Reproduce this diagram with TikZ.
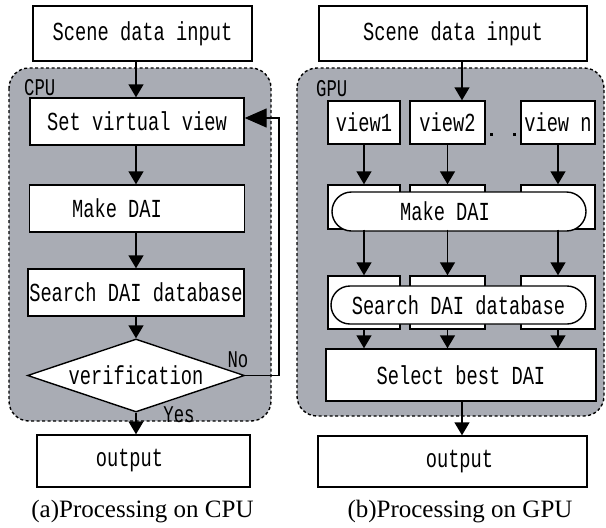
\documentclass[tikz,border=0pt]{standalone}
\usepackage{fontspec}
\usepackage{tikz}
\usetikzlibrary{arrows.meta,shapes.geometric,shapes.misc}
\newfontfamily\gothic[FakeStretch=0.72]{Liberation Mono}
\newfontfamily\capserif{Liberation Serif}
\definecolor{unitgray}{RGB}{169,172,180}

\begin{document}
\begin{tikzpicture}[x=1pt,y=-1pt,
    box/.style={draw, line width=1.4pt, fill=white, inner sep=0pt, font=\gothic\fontsize{26}{30}\selectfont},
    stadium/.style={box, rounded rectangle},
    decision/.style={box, diamond, aspect=3},
    unit/.style={draw, dash pattern=on 3pt off 2.5pt, line width=1.4pt, fill=unitgray, rounded corners=20pt},
    unitname/.style={anchor=north west, inner sep=0pt, font=\gothic\fontsize{24}{26}\selectfont},
    flow/.style={-{Triangle[length=13pt,width=15pt]}, line width=1.4pt},
    caption/.style={anchor=base, inner sep=0pt, font=\capserif\fontsize{25}{28}\selectfont}]
    \useasboundingbox (0,0) rectangle (606,528);

    % Draw CPU side
    \draw[unit] (9,68) rectangle (271,421);
    \node[unitname] (cpuname) at (24,79) {CPU};
    \coordinate (spineA) at (136,0);
    \node[box, minimum width=219pt, minimum height=55pt] (sceneA) at (142.5,33.5) {Scene data input};
    \node[box, minimum width=214pt, minimum height=47pt] (setA) at (137,121.5) {Set virtual view};
    \node[box, minimum width=215pt, minimum height=47pt] (makeA) at (137,208.5) {Make DAI\kern40pt};
    \node[box, minimum width=216pt, minimum height=47pt] (searchA) at (136,292.5) {Search DAI database};
    \node[decision, minimum width=217pt, minimum height=73pt] (verifyA) at (136,375.5) {verification};
    \node[box, minimum width=213pt, minimum height=52pt] (outA) at (143.5,461) {output\kern28pt};
    \coordinate (backA) at (279,118);

    % Flow on CPU
    \draw[flow] (sceneA.south -| spineA) -- (setA.north -| spineA);
    \draw[flow] (setA.south -| spineA) -- (makeA.north -| spineA);
    \draw[flow] (makeA.south -| spineA) -- (searchA.north -| spineA);
    \draw[flow] (searchA.south -| spineA) -- (verifyA.north);
    \draw[flow] (verifyA.south) -- (outA.north -| spineA);
    \draw[line width=1.4pt, -{Triangle[length=22pt,width=19pt]}] (verifyA.east) -| (backA) -- (setA.east |- backA);
    \node[unitname, anchor=center] (noA) at (238,360) {No};
    \node[unitname, anchor=center] (yesA) at (179,415) {Yes};

    % Draw GPU side
    \draw[unit] (297,68) rectangle (604,416);
    \node[unitname] (gpuname) at (316,80) {GPU};
    \coordinate (spineB) at (462,0);
    \node[box, minimum width=268pt, minimum height=55pt] (sceneB) at (453,33.5) {Scene data input};
    \node[box, minimum width=72pt, minimum height=43pt] (viewB1) at (364,122.5) {view1};
    \node[box, minimum width=75pt, minimum height=43pt] (viewB2) at (447.5,122.5) {view2};
    \node[box, minimum width=74pt, minimum height=43pt] (viewBn) at (558,122.5) {view n};
    \fill (489.5,132.5) rectangle ++(3,3);
    \fill (512.5,132.5) rectangle ++(3,3);
    \node[box, minimum width=72pt, minimum height=44pt] (makeB1) at (364,207) {};
    \node[box, minimum width=75pt, minimum height=44pt] (makeB2) at (447.5,207) {};
    \node[box, minimum width=74pt, minimum height=44pt] (makeBn) at (558,207) {};
    \node[stadium, minimum width=254pt, minimum height=39pt] (makeB) at (459,211.5) {Make DAI\kern28pt};
    \node[box, minimum width=72pt, minimum height=53pt] (searchB1) at (364,302.5) {};
    \node[box, minimum width=75pt, minimum height=53pt] (searchB2) at (447.5,302.5) {};
    \node[box, minimum width=74pt, minimum height=53pt] (searchBn) at (558,302.5) {};
    \node[stadium, minimum width=255pt, minimum height=38pt] (searchB) at (458.5,305) {Search DAI database};
    \node[box, minimum width=270pt, minimum height=52pt] (selectB) at (461,375) {Select best DAI};
    \node[box, minimum width=269pt, minimum height=51pt] (outB) at (452.5,461.5) {\kern14pt output};

    % Flow on GPU
    \draw[flow] (sceneB.south -| spineB) -- (viewB2.north -| spineB);
    \foreach \col in {1,2,n} {
        \draw[flow] (viewB\col) -- (makeB\col);
        \draw[flow] (makeB\col) -- (searchB\col);
        \draw[flow] (searchB\col.south) -- (selectB.north -| searchB\col);
    }
    \draw[flow] (selectB.south -| spineB) -- (outB.north -| spineB);

    % Captions
    \node[caption] (capA) at (142.5,517) {(a)Processing on CPU};
    \node[caption] (capB) at (460,517) {(b)Processing on GPU};
\end{tikzpicture}
\end{document}
